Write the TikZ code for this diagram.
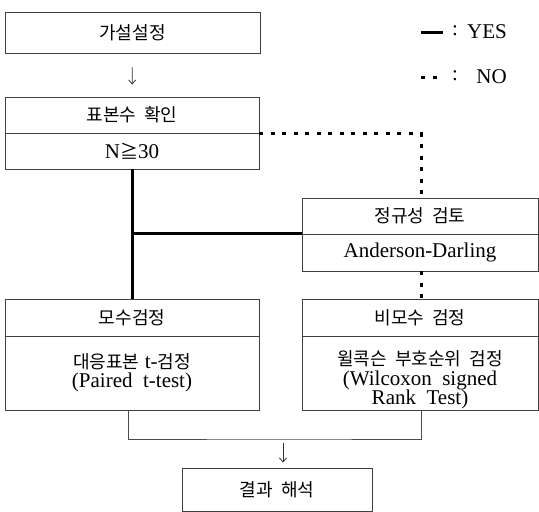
\documentclass[tikz,border=0pt]{standalone}
\usepackage{fontspec}
\setmainfont{Liberation Serif}
\newfontfamily\kr{Noto Sans CJK KR}[Scale=0.86]
\usetikzlibrary{arrows.meta}
\begin{document}
\begin{tikzpicture}[x=1pt,y=-1pt,
  box/.style={draw=black!75, line width=0.9pt, rectangle, inner sep=0pt,
    font=\fontsize{21}{19.5}\selectfont, align=center},
  txt/.style={inner sep=0pt, font=\fontsize{21}{19.5}\selectfont, align=center},
  yesline/.style={line width=3pt, black},
  noline/.style={line width=3pt, black, dash pattern=on 4pt off 7.5pt},
  conn/.style={draw=black!70, line width=0.9pt},
  arr/.style={black!80, line width=0.8pt, -{Straight Barb[length=4pt,width=7pt]}}
]
\useasboundingbox (0,0) rectangle (539,512);

% boxes
\node[box, minimum width=255pt, minimum height=41pt] (n1) at (132.5,32.5) {\kr 가설설정};
\node[box, minimum width=254pt, minimum height=36pt] (n2a) at (132,115) {\kr 표본수 \ 확인};
\node[box, minimum width=254pt, minimum height=36pt] (n2b) at (132,151) {N{\kr ≧}30};
\node[box, minimum width=236pt, minimum height=36pt] (n3a) at (420,216) {\kr 정규성 \ 검토};
\node[box, minimum width=236pt, minimum height=37pt] (n3b) at (420,252.5) {Anderson-Darling};
\node[box, minimum width=254pt, minimum height=37pt] (n4a) at (132,317.5) {\kr 모수검정};
\node[box, minimum width=254pt, minimum height=74pt] (n4b) at (132,373) {};
\node[txt] (t4b) at (n4b.center) {{\kr 대응표본} t-{\kr 검정}\\(Paired\ \ t-test)};
\node[box, minimum width=236pt, minimum height=37pt] (n5a) at (420,317.5) {\kr 비모수 \ 검정};
\node[box, minimum width=236pt, minimum height=74pt] (n5b) at (420,373) {};
\node[txt] (t5b) at ([yshift=-7pt]n5b.center) {{\kr 윌콕슨 \ 부호순위 \ 검정}\\(Wilcoxon\ \ signed\\Rank\ \ Test)};
\node[box, minimum width=190pt, minimum height=43pt] (n6) at (277,489.5) {\kr 결과 \ 해석};

% connectors
\draw[arr, shorten <=14pt, shorten >=12pt] (n1.south) -- (n2a.north);
\draw[noline] (n2a.south east) -| ([xshift=1pt]n3a.north);
\draw[yesline] (n2b.south) -- (n4a.north);
\draw[yesline] (n3b.north west) -- (n3b.north west -| n2b.south);
\draw[noline] ([xshift=1pt]n3b.south) -- ([xshift=1pt]n5a.north);
\coordinate (jm) at (283,439);
\draw[conn] ([xshift=-4pt]n4b.south) |- (jm) -| ([xshift=1pt]n5b.south);
\draw[arr, shorten <=4pt, shorten >=5pt] (jm) -- (jm |- n6.north);

% legend
\coordinate (ly1) at (421,32);
\coordinate (ly2) at (443,32);
\coordinate (ln1) at (421,77);
\coordinate (ln2) at (443,77);
\draw[yesline] (ly1) -- (ly2);
\draw[noline] (ln1) -- (ln2);
\node[txt] (c1) at (455,31) {:};
\node[txt] (c2) at (455,76) {:};
\node[txt, anchor=east] (lyes) at (507,32) {YES};
\node[txt, anchor=east] (lno) at (507,77) {NO};
\end{tikzpicture}
\end{document}
